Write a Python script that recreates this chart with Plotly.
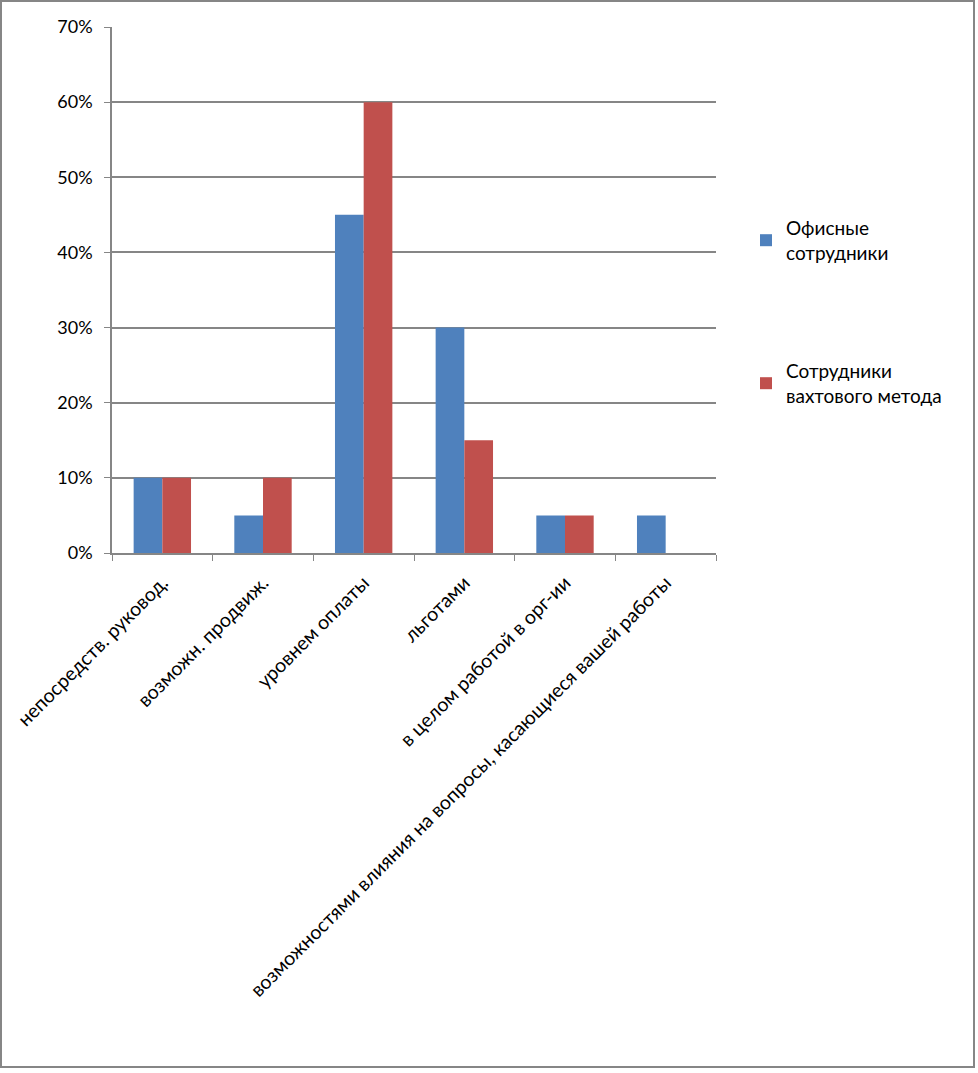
import plotly.graph_objects as go

categories = [
    "непосредств. руковод.",
    "возможн. продвиж.",
    "уровнем оплаты",
    "льготами",
    "в целом работой в орг-ии",
    "возможностями влияния на вопросы, касающиеся вашей работы",
]
office = [0.10, 0.05, 0.45, 0.30, 0.05, 0.05]
shift = [0.10, 0.10, 0.60, 0.15, 0.05, 0.0]
series_names = ["Офисные<br>сотрудники", "Сотрудники<br>вахтового метода"]

FONT = "Lato, Carlito, Calibri, sans-serif"
W, H = 978, 1073
L, R, T, B = 112, 262, 27, 520
pw, ph = W - L - R, H - T - B

fig = go.Figure()
fig.add_trace(go.Bar(x=categories, y=office, name=series_names[0],
                     marker=dict(color="#4F81BD", line=dict(width=0)),
                     legend="legend"))
fig.add_trace(go.Bar(x=categories, y=shift, name=series_names[1],
                     marker=dict(color="#C0504D", line=dict(width=0)),
                     legend="legend2"))

def px_x(x):
    return (x - L) / pw

def px_y(y):
    return (H - B - y) / ph

fig.update_layout(
    width=W, height=H,
    margin=dict(l=L, r=R, t=T, b=B, autoexpand=False),
    paper_bgcolor="white", plot_bgcolor="white",
    font=dict(family=FONT, size=18, color="black"),
    barmode="group", bargap=0.43, bargroupgap=0,
    showlegend=True,
    legend=dict(x=px_x(746), y=px_y(209), xanchor="left", yanchor="top",
                font=dict(size=19), bgcolor="rgba(0,0,0,0)"),
    legend2=dict(x=px_x(746), y=px_y(352), xanchor="left", yanchor="top",
                 font=dict(size=19), bgcolor="rgba(0,0,0,0)"),
    xaxis=dict(type="category", tickangle=-45, tickson="boundaries",
               ticks="outside", ticklen=6, tickcolor="#868686",
               showline=True, linecolor="#868686", linewidth=1.5,
               showgrid=False, automargin=False, ticklabelstandoff=9,
               tickfont=dict(size=19.5, color="black")),
    yaxis=dict(range=[0, 0.7], dtick=0.1, tickformat=".0%",
               ticks="outside", ticklen=6, tickcolor="#868686",
               showline=True, linecolor="#868686", linewidth=1.5,
               showgrid=True, gridcolor="#868686", gridwidth=1.5,
               zeroline=False, automargin=False, ticklabelstandoff=8,
               tickfont=dict(size=18, color="black")),
    shapes=[dict(type="rect", xref="paper", yref="paper",
                 x0=px_x(1), x1=px_x(974), y0=px_y(1067), y1=px_y(1),
                 line=dict(color="#868686", width=2), fillcolor="rgba(0,0,0,0)",
                 layer="below")],
)

fig.write_html("out.html", config={"displayModeBar": False},
               post_script="document.body.style.margin='0';document.body.style.overflow='hidden';")
